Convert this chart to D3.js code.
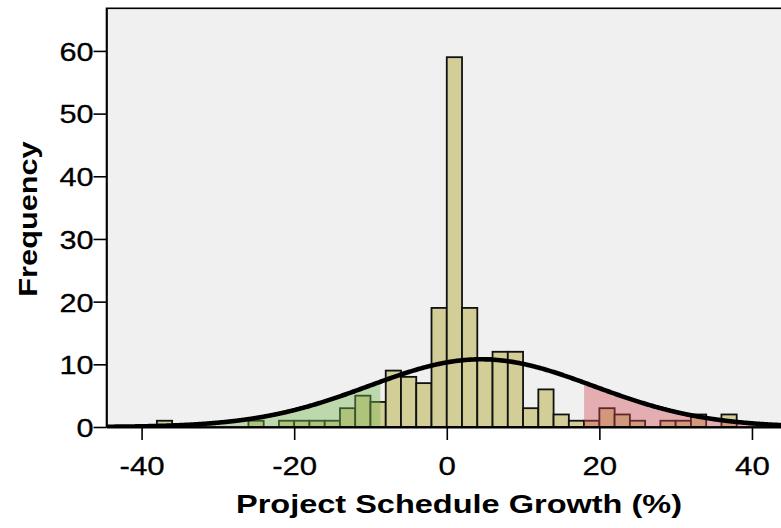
<!DOCTYPE html>
<html>
<head>
<meta charset="utf-8">
<script src="https://cdn.jsdelivr.net/npm/d3@7/dist/d3.min.js"></script>
<style>
  html, body { margin: 0; padding: 0; background: #fff; }
  svg { display: block; }
  text { font-family: "Liberation Sans", Arial, Helvetica, sans-serif; fill: #000; }
</style>
</head>
<body>
<svg id="chart" width="781" height="528"></svg>
<script>
// Histogram bins (lower edge, %) and their frequencies; every bin is 2 % wide
const binLower = [-38, -36, -34, -32, -30, -28, -26, -24, -22, -20, -18, -16, -14, -12, -10, -8, -6, -4, -2,
                  0, 2, 4, 6, 8, 10, 12, 14, 16, 18, 20, 22, 24, 26, 28, 30, 32, 34, 36];
const counts   = [1, 0, 0, 0, 0, 0, 1, 0, 1, 1, 1, 1, 3, 5, 4, 9, 8, 7, 19,
                  59, 19, 11, 12, 12, 3, 6, 2, 1, 1, 3, 2, 1, 0, 1, 1, 2, 0, 2];
const binWidth = 2;

// Fitted normal curve
const curveMean = 4.5;
const curveSD = 14.7;

// Shaded tails under the curve
const lowerCut = -8.7;
const upperCut = 18;

const xTicks = [-40, -20, 0, 20, 40];
const yTicks = [0, 10, 20, 30, 40, 50, 60];

const svg = d3.select("#chart");

const x = d3.scaleLinear().domain([-44.6, 45]).range([106.5, 790.1]);
const y = d3.scaleLinear().domain([0, 66.8]).range([427, 8.3]);

const plotL = x.range()[0], plotR = x.range()[1];
const plotT = y.range()[1], plotB = y.range()[0];

svg.append("defs").append("clipPath").attr("id", "plotClip")
  .append("rect")
  .attr("x", plotL).attr("y", plotT)
  .attr("width", plotR - plotL).attr("height", plotB - plotT);

// plot background
svg.append("rect")
  .attr("x", plotL).attr("y", plotT)
  .attr("width", plotR - plotL).attr("height", plotB - plotT)
  .attr("fill", "#f0f0f0");

const plot = svg.append("g").attr("clip-path", "url(#plotClip)");

const bins = binLower.map((lo, i) => ({ lo, hi: lo + binWidth, n: counts[i] }))
  .filter(d => d.n > 0);

plot.selectAll("rect.bar")
  .data(bins)
  .join("rect")
  .attr("class", "bar")
  .attr("x", d => x(d.lo))
  .attr("width", d => x(d.hi) - x(d.lo))
  .attr("y", d => y(d.n))
  .attr("height", d => y(0) - y(d.n))
  .attr("fill", "#d3ce97")
  .attr("stroke", "#111")
  .attr("stroke-width", 1.8);

// normal curve scaled to the histogram counts
const total = d3.sum(counts);
const density = v => total * binWidth / (curveSD * Math.sqrt(2 * Math.PI)) *
  Math.exp(-0.5 * Math.pow((v - curveMean) / curveSD, 2));

const curvePts = d3.range(-44.6, 45.01, 0.1).map(v => [v, density(v)]);

const area = d3.area()
  .x(d => x(d[0]))
  .y0(y(0))
  .y1(d => y(d[1]));

const lowTail = curvePts.filter(d => d[0] <= lowerCut).concat([[lowerCut, density(lowerCut)]]);
const highTail = [[upperCut, density(upperCut)]].concat(curvePts.filter(d => d[0] >= upperCut));

plot.append("path")
  .datum(lowTail)
  .attr("d", area)
  .attr("fill", "rgba(122, 184, 84, 0.42)");

plot.append("path")
  .datum(highTail)
  .attr("d", area)
  .attr("fill", "rgba(208, 72, 82, 0.40)");

plot.append("path")
  .datum(curvePts)
  .attr("d", d3.line().x(d => x(d[0])).y(d => y(d[1])))
  .attr("fill", "none")
  .attr("stroke", "#000")
  .attr("stroke-width", 4.6);

// frame
svg.append("rect")
  .attr("x", plotL).attr("y", plotT)
  .attr("width", plotR - plotL).attr("height", plotB - plotT)
  .attr("fill", "none")
  .attr("stroke", "#000")
  .attr("stroke-width", 1.6);

// axes
const yAxis = svg.append("g")
  .attr("transform", `translate(${plotL},0)`)
  .call(d3.axisLeft(y).tickValues(yTicks).tickSize(13).tickSizeOuter(0).tickPadding(0)
    .tickFormat(d => String(d)));
yAxis.select(".domain").attr("stroke-width", 1.6);
yAxis.selectAll(".tick line").attr("stroke-width", 1.6);
yAxis.selectAll(".tick text")
  .attr("x", 0)
  .attr("dy", "0.36em")
  .attr("transform", "translate(-13,0) scale(1.18,1)")
  .style("font-size", "26px")
  .attr("stroke", "#000")
  .attr("stroke-width", 0.3)
  .attr("fill", "#000");

const xAxis = svg.append("g")
  .attr("transform", `translate(0,${plotB})`)
  .call(d3.axisBottom(x).tickValues(xTicks).tickSize(13).tickSizeOuter(0).tickPadding(0)
    .tickFormat(d => String(d)));
xAxis.select(".domain").attr("stroke-width", 2.2);
xAxis.selectAll(".tick line").attr("stroke-width", 1.6);
xAxis.selectAll(".tick text")
  .attr("y", 0)
  .attr("dy", 0)
  .attr("transform", "translate(0,48) scale(1.2,1)")
  .style("font-size", "26px")
  .attr("stroke", "#000")
  .attr("stroke-width", 0.3)
  .attr("fill", "#000");
svg.selectAll(".tick text").attr("font-family", null);

// axis titles
svg.append("text")
  .attr("transform", "translate(459,513) scale(1.27,1)")
  .attr("text-anchor", "middle")
  .style("font-size", "25.6px")
  .style("font-weight", "bold")
  .text("Project Schedule Growth (%)");

svg.append("text")
  .attr("transform", "translate(37,219) rotate(-90) scale(1.2,1)")
  .attr("text-anchor", "middle")
  .style("font-size", "25.6px")
  .style("font-weight", "bold")
  .text("Frequency");
</script>
</body>
</html>
